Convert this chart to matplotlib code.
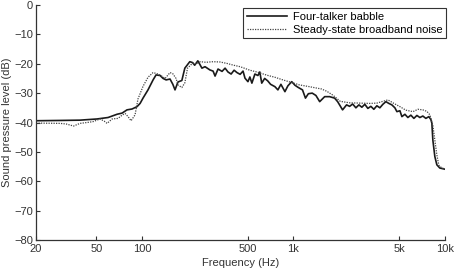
import matplotlib
matplotlib.use('Agg')
import matplotlib.pyplot as plt

plt.rcParams['font.family'] = ['Liberation Sans', 'DejaVu Sans']
plt.rcParams['font.size'] = 8

# Four-talker babble (frequency in Hz, level in dB)
babble_freq = [20, 28.8, 39.0, 50.5, 59.8, 68.5, 74.0, 79.7, 86.1, 92.9, 97.3,
               101.7, 109.7, 118.5, 124, 131.8, 138, 144.5, 153.3, 160, 165.4,
               173, 183.5, 192, 207, 216, 223, 234, 249, 261, 281, 295, 304,
               318, 338, 354, 370, 388, 406, 424, 445, 465, 479, 501, 516, 532,
               557, 583, 600, 618, 646, 676, 707, 755, 790, 827, 879, 920, 975,
               1023, 1071, 1148, 1201, 1255, 1331, 1408, 1491, 1608, 1734, 1870,
               1958, 2111, 2243, 2350, 2460, 2585, 2705, 2830, 2960, 3100, 3245,
               3395, 3555, 3720, 3895, 4077, 4265, 4465, 4675, 4820, 5045, 5200,
               5445, 5695, 5960, 6240, 6530, 6835, 7150, 7485, 7835, 8075, 8200,
               8325, 8580, 8845, 9250, 10000]
babble_db = [-39.4, -39.3, -39.2, -38.8, -38.3, -37.2, -36.8, -35.7, -35.4, -34.6, -33.5,
             -31.7, -28.9, -25.5, -23.8, -24.0, -25.0, -25.5, -25.2, -27.0, -28.9,
             -26.2, -25.7, -21.5, -19.3, -19.6, -20.5, -19.0, -21.5, -21.0, -22.1, -22.5, -24.2,
             -21.8, -22.6, -21.5, -22.8, -23.5, -22.2, -23.0, -23.6, -22.5, -24.9, -26.1, -24.5, -26.6,
             -23.5, -24.0, -22.8, -26.6, -25.0, -25.8, -27.0, -27.8, -28.9, -27.0, -29.5, -27.5, -26.1,
             -27.3, -28.0, -28.9, -31.7, -30.2, -30.0, -30.8, -32.9, -31.2, -31.2, -31.7,
             -32.9, -35.7, -34.0, -34.5, -33.7, -35.0, -34.0, -34.8, -33.8, -35.2, -34.5,
             -35.5, -34.3, -35.0, -33.8, -32.9, -33.5, -34.0, -35.0, -36.3, -36.0, -38.0,
             -37.2, -38.3, -37.5, -38.6, -37.6, -38.3, -37.8, -38.6, -38.0, -39.0, -40.2,
             -46.0, -51.6, -54.4, -55.5, -55.9]

# Steady-state broadband noise
noise_freq = [20, 28.8, 31.6, 35.4, 39.0, 43.5, 47.6, 52.9, 56.3, 58.9, 63.6, 69.6,
              74.0, 77.4, 81, 84.8, 90.1, 94.2, 101.7, 109.7, 118.5, 127.8, 136,
              142.3, 153.3, 160, 168, 173, 183.5, 192, 200, 216, 230, 243, 265,
              295, 328, 365, 403, 445, 516, 583, 669, 755, 853, 947, 1096, 1275,
              1430, 1535, 1665, 1823, 2040, 2350, 2745, 3195, 3555, 3895, 4205,
              4605, 5045, 5523, 6150, 6640, 7150, 7600, 7960, 8325, 8580, 8845,
              9110, 9540, 10000]
noise_db = [-40.2, -40.3, -40.5, -41.2, -40.3, -40.0, -39.7, -38.8, -39.5, -40.3, -38.8, -38.6,
            -37.5, -36.9, -38.0, -39.4, -37.4, -32.0, -27.7, -24.6, -23.0, -23.5, -24.3,
            -25.0, -23.0, -23.4, -25.0, -27.2, -28.1, -26.5, -21.5, -19.8, -20.0, -19.3, -19.5,
            -19.3, -19.4, -19.9, -20.5, -21.0, -22.2, -22.9, -23.9, -24.6, -25.5, -26.2, -27.2, -27.8,
            -28.3, -28.6, -29.4, -30.7, -32.8, -33.3, -33.4, -33.5, -33.4, -32.8, -32.3,
            -33.5, -34.6, -35.8, -36.3, -35.5, -35.7, -36.2, -37.4, -41.0, -46.0, -51.0,
            -54.5, -55.5, -55.8]

xticks = [20, 50, 100, 500, 1000, 5000, 10000]
xtick_labels = ['20', '50', '100', '500', '1k', '5k', '10k']
yticks = [0, -10, -20, -30, -40, -50, -60, -70, -80]

fig = plt.figure(figsize=(4.54, 2.69), dpi=100)
ax = fig.add_axes([0.0793, 0.1078, 0.9007, 0.8736])

ax.plot(babble_freq, babble_db, color='#1a1a1a', lw=1.2, label='Four-talker babble')
ax.plot(noise_freq, noise_db, color='#444444', lw=0.9, linestyle=(0, (1, 1)),
        label='Steady-state broadband noise')

ax.set_xscale('log')
ax.set_xlim(20, 10000)
ax.set_ylim(-80, 0)
ax.set_xticks(xticks)
ax.set_xticklabels(xtick_labels)
ax.xaxis.set_minor_locator(matplotlib.ticker.NullLocator())
ax.set_yticks(yticks)
ax.set_yticklabels([str(v).replace('-', '\u2212') for v in yticks])
ax.tick_params(direction='in', length=3, width=0.8, pad=2, colors='#333333')
ax.tick_params(axis='x', pad=3)

for side in ['top', 'right']:
    ax.spines[side].set_visible(False)
for side in ['left', 'bottom']:
    ax.spines[side].set_linewidth(0.9)
    ax.spines[side].set_color('#333333')

ax.set_xlabel('Frequency (Hz)', labelpad=3, color='#333333')
ax.set_ylabel('Sound pressure level (dB)', labelpad=2, color='#333333')

leg = ax.legend(loc='upper right', bbox_to_anchor=(1.017, 1.009), fancybox=False,
                edgecolor='#333333', framealpha=1, handlelength=3.6,
                borderpad=0.35, labelspacing=0.2, handletextpad=0.5, fontsize=8)
leg.get_frame().set_linewidth(0.8)

fig.savefig('out.png', dpi=100)
